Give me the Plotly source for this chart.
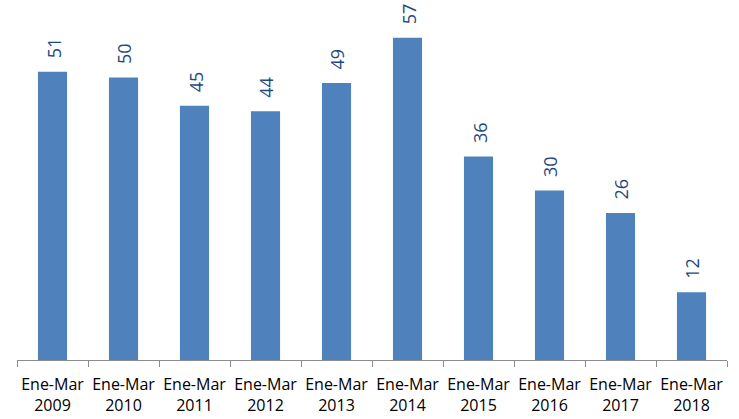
import plotly.graph_objects as go

categories = ["Ene-Mar<br>2009", "Ene-Mar<br>2010", "Ene-Mar<br>2011", "Ene-Mar<br>2012",
              "Ene-Mar<br>2013", "Ene-Mar<br>2014", "Ene-Mar<br>2015", "Ene-Mar<br>2016",
              "Ene-Mar<br>2017", "Ene-Mar<br>2018"]
values = [51, 50, 45, 44, 49, 57, 36, 30, 26, 12]

fig = go.Figure(go.Bar(
    x=categories, y=values,
    marker=dict(color="#4F81BD", line=dict(width=0)),
    hoverinfo="x+y",
))

for c, v in zip(categories, values):
    fig.add_annotation(
        x=c, y=v, text=str(v), showarrow=False,
        textangle=-90, xanchor="center", yanchor="middle",
        yshift=24, xshift=1,
        font=dict(family="Open Sans", size=18, color="#1F497D"),
    )

fig.update_layout(
    width=739, height=419,
    margin=dict(l=17, r=12, t=0, b=59, autoexpand=False),
    plot_bgcolor="white", paper_bgcolor="white",
    bargap=0.59,
    showlegend=False,
    font=dict(family="Open Sans", size=16, color="#000000"),
)
fig.update_xaxes(
    automargin=False, tickangle=0, ticklabelstandoff=10,
    showline=True, linecolor="#8C8C8C", linewidth=1,
    ticks="outside", tickson="boundaries", ticklen=6, tickcolor="#8C8C8C",
    tickfont=dict(family="Open Sans", size=16, color="#000000"),
    showgrid=False,
)
fig.update_yaxes(visible=False, automargin=False, range=[0, 63.7], showgrid=False)

fig.write_html(
    "out.html",
    config={"displayModeBar": False},
    post_script="document.body.style.margin='0';document.body.style.overflow='hidden';",
)
